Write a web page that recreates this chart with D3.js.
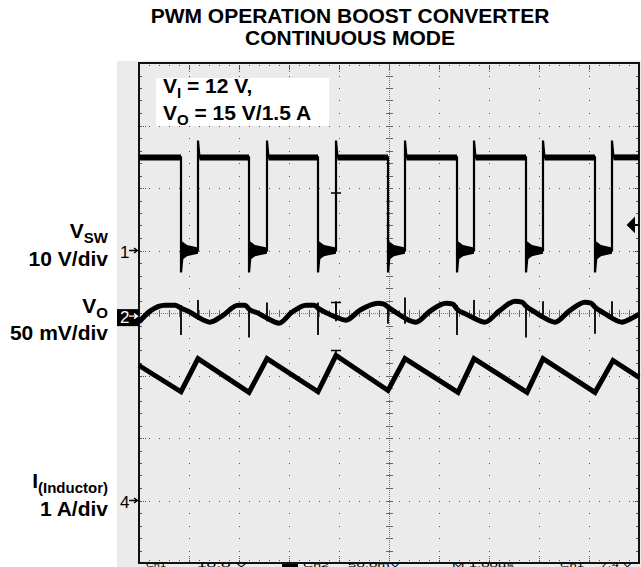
<!DOCTYPE html>
<html>
<head>
<meta charset="utf-8">
<script src="https://cdn.jsdelivr.net/npm/d3@7"></script>
<style>
body { margin: 0; background: #fff; }
svg { display: block; font-family: "Liberation Sans", Arial, sans-serif; }
</style>
</head>
<body>
<div id="chart"></div>
<script>
"use strict";

// time is in screen divisions (10 across), values in each channel's own unit
var swFall = [0.84, 2.20, 3.58, 4.98, 6.36, 7.74, 9.12];
var swRise = [1.18, 2.56, 3.94, 5.32, 6.70, 8.08, 9.46];
var swLevels = { high: 14.9, low: 0, under: -3.5, over: 17.6 }; // V
var swRing = [1.5, 0.9, 0.5]; // ringing envelope on the low part, V

var ilT = [0, 0.84, 1.18, 2.20, 2.56, 3.58, 3.94, 4.98, 5.32, 6.38, 6.70, 7.76, 8.08, 9.12, 9.48, 10];
var ilA = [2.16, 1.74, 2.27, 1.73, 2.27, 1.74, 2.32, 1.76, 2.27, 1.73, 2.27, 1.73, 2.27, 1.73, 2.24, 1.97];

var voT = [0.00, 0.22, 0.52, 0.72, 0.84, 1.02, 1.18, 1.42, 1.66, 1.98, 2.12, 2.20, 2.38, 2.56, 2.80,
    3.06, 3.34, 3.50, 3.58, 3.76, 3.94, 4.14, 4.42, 4.78, 4.90, 4.98, 5.16, 5.32, 5.54, 5.82,
    6.14, 6.28, 6.36, 6.54, 6.70, 6.92, 7.20, 7.52, 7.66, 7.74, 7.92, 8.08, 8.32, 8.60, 8.92,
    9.04, 9.12, 9.30, 9.46, 9.66, 9.86, 10.0];
var voMV = [-4.8, 4.0, 8.8, 8.8, 6.4, 3.2, -0.8, -4.8, 0.0, 8.8, 8.8, 5.6, 2.4, -1.6, -5.6,
    3.2, 8.8, 8.8, 6.4, 2.4, -0.8, -3.2, 4.8, 10.4, 9.6, 7.2, 2.4, -1.6, -4.8, 4.0,
    10.4, 9.6, 5.6, 1.6, -1.6, -4.8, 4.0, 12.0, 11.2, 8.0, 3.2, -0.8, -4.8, 4.0, 11.2,
    10.4, 7.2, 2.4, -1.6, -4.8, -1.6, 1.6];

// switching spikes on V_O (mV)
var spikeT = [0.84, 2.20, 3.58, 4.98, 6.36, 7.74, 9.12, 1.18, 2.56, 3.94, 5.32, 6.70, 8.08, 9.46];
var spikeLo = [-15, -17, -15, -6, -15, -17, -14, -3, -4, -4, -6, -3, -2, -2];
var spikeHi = [9, 7, 11, 8, 9, 8, 9, 13, 11, 12, 15, 13, 12, 12];

// channel reference (div from centre) and scale (unit per div)
var chNames = ["1", "2", "4"];
var chPos = [1, -0.05, -3];
var chScale = [10, 50, 1];

var trigT = 3.94;
var trigVals = [9.2, 11, 2.4];
var trigLevel = 4.1; // V on channel 1

var W = 641, H = 567;
var svg = d3.select("#chart").append("svg")
    .attr("width", W)
    .attr("height", H);

var x = d3.scaleLinear().domain([0, 10]).range([139, 639]);
var yDiv = d3.scaleLinear().domain([-4, 4]).range([563, 63]);

function chY(i) {
    return function (v) { return yDiv(chPos[i] + v / chScale[i]); };
}
var y1 = chY(0), y2 = chY(1), y4 = chY(2);

//Screen background
svg.append("rect")
    .attr("x", 117).attr("y", 61)
    .attr("width", W - 117).attr("height", H - 61)
    .attr("fill", "#ebebeb");

//Graticule
var grid = svg.append("g").attr("shape-rendering", "crispEdges");
var xMinor = d3.range(51).map(function (k) { return k / 5; });
var yMinor = d3.range(41).map(function (k) { return -4 + k / 5; });
var dots = [];
[-3, -2, -1, 1, 2, 3].forEach(function (j) {
    xMinor.forEach(function (t) { dots.push([x(t), yDiv(j)]); });
    [0.04, 0.08, 0.12, 9.88, 9.92, 9.96].forEach(function (t) { dots.push([x(t), yDiv(j)]); });
});
[1, 2, 3, 4, 6, 7, 8, 9].forEach(function (i) {
    yMinor.forEach(function (v) { dots.push([x(i), yDiv(v)]); });
    [-3.96, -3.92, -3.88, 3.88, 3.92, 3.96].forEach(function (v) { dots.push([x(i), yDiv(v)]); });
});
grid.selectAll("rect.dot")
    .data(dots)
    .enter()
    .append("rect")
    .attr("class", "dot")
    .attr("x", function (d) { return Math.round(d[0]) - 0.5; })
    .attr("y", function (d) { return Math.round(d[1]) - 0.5; })
    .attr("width", 1.3).attr("height", 1.3)
    .attr("fill", "#555");

//Centre lines, finely dotted, with minor ticks
grid.append("line")
    .attr("x1", x(5)).attr("x2", x(5))
    .attr("y1", yDiv(-4)).attr("y2", yDiv(4))
    .attr("stroke", "#777").attr("stroke-dasharray", "1,1");
grid.append("line")
    .attr("x1", x(0)).attr("x2", x(10))
    .attr("y1", yDiv(0)).attr("y2", yDiv(0))
    .attr("stroke", "#777").attr("stroke-dasharray", "1,1");
grid.selectAll("line.vtick")
    .data(yMinor)
    .enter()
    .append("line")
    .attr("x1", x(5) - 3).attr("x2", x(5) + 4)
    .attr("y1", function (d) { return Math.round(yDiv(d)); })
    .attr("y2", function (d) { return Math.round(yDiv(d)); })
    .attr("stroke", "#666");
grid.selectAll("line.htick")
    .data(xMinor)
    .enter()
    .append("line")
    .attr("x1", function (d) { return x(d); })
    .attr("x2", function (d) { return x(d); })
    .attr("y1", yDiv(0) - 3).attr("y2", yDiv(0) + 4)
    .attr("stroke", "#666");

//Frame ticks
grid.selectAll("line.ftop")
    .data(xMinor)
    .enter()
    .append("line")
    .attr("x1", function (d) { return x(d); })
    .attr("x2", function (d) { return x(d); })
    .attr("y1", yDiv(4)).attr("y2", function (d) { return yDiv(4) + (d % 1 === 0 ? 7 : 3); })
    .attr("stroke", "#555").attr("stroke-dasharray", "1,1");
grid.selectAll("line.fbot")
    .data(xMinor)
    .enter()
    .append("line")
    .attr("x1", function (d) { return x(d); })
    .attr("x2", function (d) { return x(d); })
    .attr("y1", yDiv(-4)).attr("y2", function (d) { return yDiv(-4) - (d % 1 === 0 ? 7 : 3); })
    .attr("stroke", "#555").attr("stroke-dasharray", "1,1");
grid.selectAll("line.fleft")
    .data(yMinor)
    .enter()
    .append("line")
    .attr("x1", x(0)).attr("x2", x(0) + 3)
    .attr("y1", function (d) { return Math.round(yDiv(d)); })
    .attr("y2", function (d) { return Math.round(yDiv(d)); })
    .attr("stroke", "#555");
grid.selectAll("line.fright")
    .data(yMinor)
    .enter()
    .append("line")
    .attr("x1", x(10) - 3).attr("x2", x(10))
    .attr("y1", function (d) { return Math.round(yDiv(d)); })
    .attr("y2", function (d) { return Math.round(yDiv(d)); })
    .attr("stroke", "#555");
grid.append("rect")
    .attr("x", x(0)).attr("y", yDiv(4))
    .attr("width", x(10) - x(0)).attr("height", yDiv(-4) - yDiv(4))
    .attr("fill", "none").attr("stroke", "#111").attr("stroke-width", 1.4);

//Condition box
svg.append("rect")
    .attr("x", 156).attr("y", 78).attr("width", 173).attr("height", 48)
    .attr("fill", "#fff");
var cond = [["I", " = 12 V,", 93], ["O", " = 15 V/1.5 A", 120]];
cond.forEach(function (c) {
    var t = svg.append("text")
        .attr("x", 163).attr("y", c[2])
        .attr("font-size", 21).attr("font-weight", "bold");
    t.append("tspan").text("V");
    t.append("tspan").attr("font-size", 15).attr("dy", 5).text(c[0]);
    t.append("tspan").attr("dy", -5).text(c[1]);
});

//Traces
var line = d3.line()
    .x(function (d) { return x(d[0]); });

// V_SW (channel 1)
var swPts = [[0, swLevels.high]];
var swHighSegs = [];
var prev = 0;
swFall.forEach(function (f, i) {
    var r = swRise[i];
    swHighSegs.push([[prev, swLevels.high], [f, swLevels.high]]);
    swPts.push([f, swLevels.high], [f, swLevels.under], [f + 0.04, swLevels.low],
        [r, swLevels.low], [r, swLevels.over], [r + 0.03, swLevels.high]);
    prev = r + 0.03;
});
swHighSegs.push([[prev, swLevels.high], [10, swLevels.high]]);
swPts.push([10, swLevels.high]);

svg.append("path")
    .attr("d", line.y(function (d) { return y1(d[1]); })(swPts))
    .attr("fill", "none").attr("stroke", "#000").attr("stroke-width", 2.2);
svg.selectAll("path.swhigh")
    .data(swHighSegs)
    .enter()
    .append("path")
    .attr("class", "swhigh")
    .attr("d", line.y(function (d) { return y1(d[1]); }))
    .attr("fill", "none").attr("stroke", "#000").attr("stroke-width", 6);

var ringArea = d3.area()
    .x(function (d) { return x(d[0]); })
    .y0(function (d) { return y1(-d[1]); })
    .y1(function (d) { return y1(d[1]); });
swFall.forEach(function (f, i) {
    var r = swRise[i];
    svg.append("path")
        .attr("d", ringArea([[f + 0.02, swRing[0]], [f + 0.12, swRing[1]], [r, swRing[2]]]))
        .attr("fill", "#000");
});

// V_O (channel 2)
var voPts = voT.map(function (t, i) { return [t, voMV[i]]; });
svg.append("path")
    .attr("d", d3.line()
        .x(function (d) { return x(d[0]); })
        .y(function (d) { return y2(d[1]); })
        .curve(d3.curveMonotoneX)(voPts))
    .attr("fill", "none").attr("stroke", "#000").attr("stroke-width", 5);
svg.selectAll("line.spike")
    .data(spikeT)
    .enter()
    .append("line")
    .attr("x1", function (d) { return x(d); })
    .attr("x2", function (d) { return x(d); })
    .attr("y1", function (d, i) { return y2(spikeLo[i]); })
    .attr("y2", function (d, i) { return y2(spikeHi[i]); })
    .attr("stroke", "#000").attr("stroke-width", 1.8);

// inductor current (channel 4)
var ilPts = ilT.map(function (t, i) { return [t, ilA[i]]; });
svg.append("path")
    .attr("d", d3.line()
        .x(function (d) { return x(d[0]); })
        .y(function (d) { return y4(d[1]); })(ilPts))
    .attr("fill", "none").attr("stroke", "#000").attr("stroke-width", 5)
    .attr("stroke-linejoin", "miter");

//Trigger marks
[y1, y2, y4].forEach(function (fy, i) {
    var yy = fy(trigVals[i]);
    svg.append("path")
        .attr("d", "M" + (x(trigT) - 5) + "," + yy + "H" + (x(trigT) + 5) +
            "M" + x(trigT) + "," + yy + "V" + (yy + 7))
        .attr("stroke", "#000").attr("stroke-width", 1.5).attr("fill", "none");
});
var ty = y1(trigLevel);
svg.append("path")
    .attr("d", "M" + (x(10) - 11) + "," + ty + "L" + (x(10) - 5) + "," + (ty - 6) +
        "V" + (ty + 6) + "Z M" + (x(10) - 6) + "," + ty + "H" + x(10))
    .attr("fill", "#000").attr("stroke", "#000").attr("stroke-width", 2);

//Channel reference markers
chNames.forEach(function (n, i) {
    var yy = yDiv(chPos[i]);
    var col = "#000";
    if (n === "2") {
        svg.append("rect")
            .attr("x", 117).attr("y", yy - 7).attr("width", 22).attr("height", 17)
            .attr("fill", "#000");
        col = "#fff";
    }
    svg.append("text")
        .attr("x", 120).attr("y", yy + 7)
        .attr("font-size", 17)
        .attr("fill", col)
        .text(n);
    svg.append("path")
        .attr("d", "M129," + yy + "H137 M134," + (yy - 2.5) + "L137.5," + yy + "L134," + (yy + 2.5))
        .attr("stroke", col).attr("stroke-width", 1.4).attr("fill", "none");
});

//Channel labels on the left
var labMain = ["V", "V", "I"];
var labSub = ["SW", "O", "(Inductor)"];
var labY = [238, 313, 488];
var labDiv = ["10 V/div", "50 mV/div", "1 A/div"];
var labDivY = [266, 340, 516];
labMain.forEach(function (m, i) {
    var t = svg.append("text")
        .attr("x", 108).attr("y", labY[i])
        .attr("text-anchor", "end")
        .attr("font-size", 21).attr("font-weight", "bold");
    t.append("tspan").text(m);
    t.append("tspan").attr("font-size", 15).attr("dy", 5).text(labSub[i]);
    svg.append("text")
        .attr("x", 108).attr("y", labDivY[i])
        .attr("text-anchor", "end")
        .attr("font-size", 21).attr("font-weight", "bold")
        .text(labDiv[i]);
});

//Title
var titleLines = ["PWM OPERATION BOOST CONVERTER", "CONTINUOUS MODE"];
svg.selectAll("text.title")
    .data(titleLines)
    .enter()
    .append("text")
    .attr("class", "title")
    .attr("x", 350)
    .attr("y", function (d, i) { return 23 + i * 22; })
    .attr("text-anchor", "middle")
    .attr("font-size", 21).attr("font-weight", "bold")
    .text(function (d) { return d; });

//Scope readout strip along the bottom edge (only a sliver shows)
svg.append("rect")
    .attr("x", 282).attr("y", 564).attr("width", 16).attr("height", 3)
    .attr("fill", "#000");
var readout = [["Ch1", 146, 20], ["10.0 V", 197, 50], ["Ch2", 303, 26], ["50.0mV", 348, 52],
    ["M 1.00\u00b5s", 452, 62], ["Ch1", 560, 24], ["7.4 V", 600, 32]];
readout.forEach(function (r) {
    svg.append("text")
        .attr("x", r[1]).attr("y", 566.5)
        .attr("font-size", 4.5)
        .attr("textLength", r[2])
        .attr("lengthAdjust", "spacingAndGlyphs")
        .text(r[0]);
});
</script>
</body>
</html>
